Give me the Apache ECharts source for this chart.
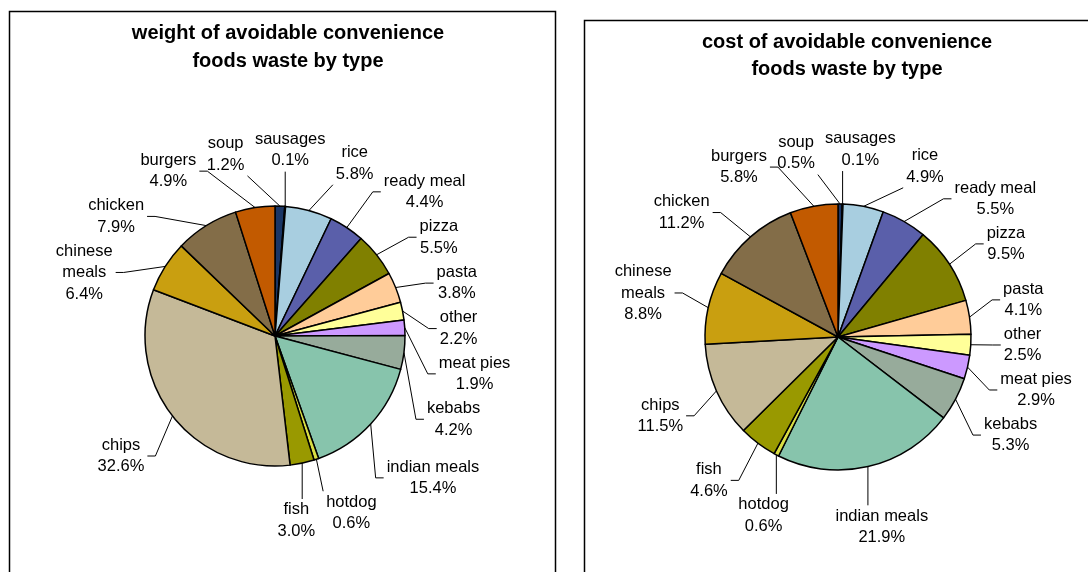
<!DOCTYPE html>
<html><head><meta charset="utf-8">
<script src="https://cdn.jsdelivr.net/npm/echarts@6/dist/echarts.min.js"></script>
<style>html,body{margin:0;padding:0;background:#fff}#c{width:1088px;height:572px}</style>
</head><body><div id="c"></div>
<script>
const categories = ['soup','sausages','rice','ready meal','pizza','pasta','other','meat pies','kebabs','indian meals','hotdog','fish','chips','chinese\nmeals','chicken','burgers'];
const weightPct = [1.2,0.1,5.8,4.4,5.5,3.8,2.2,1.9,4.2,15.4,0.6,3.0,32.6,6.4,7.9,4.9];
const costPct = [0.5,0.1,4.9,5.5,9.5,4.1,2.5,2.9,5.3,21.9,0.6,4.6,11.5,8.8,11.2,5.8];
const sliceColors = ['#1B3665','#2E2E7A','#A8CEE0','#5A5FAA','#808000','#FFCC99','#FFFF99','#CC99FF','#97AB9B','#87C4AC','#D9DD44','#999900','#C5B998','#C99F10','#836D48','#C25A00'];
const titles = ['weight of avoidable convenience\nfoods waste by type','cost of avoidable convenience\nfoods waste by type'];

const FONT = '"Liberation Sans", Arial, sans-serif';
const FS = 16.5, LH = 21.5;
const ctx = document.createElement('canvas').getContext('2d');
ctx.font = FS + 'px ' + FONT;
function labelText(i, vals){ return categories[i] + '\n' + vals[i].toFixed(1) + '%'; }
function measure(t){ const lines = t.split('\n'); return {w: Math.max(...lines.map(s => ctx.measureText(s).width)), h: lines.length * LH}; }

// radial label placement with simple angular relaxation (Excel "best fit" look)
function computeLayout(vals, C, r, gap){
  const sum = vals.reduce((a,b)=>a+b,0);
  let cum = 0;
  const L = vals.map((v,i)=>{ const mid = (cum + v/2)/sum*2*Math.PI; cum += v; const m = measure(labelText(i, vals)); return {mid, ang:mid, w:m.w+4, h:m.h}; });
  function place(l){ const dx = Math.sin(l.ang), dy = -Math.cos(l.ang); const ext = Math.abs(dx)*l.w/2 + Math.abs(dy)*l.h/2; const D = r + gap + ext; l.cx = C[0] + dx*D; l.cy = C[1] + dy*D; }
  L.forEach(place);
  for (let it = 0; it < 1500; it++){
    let moved = false;
    for (let i = 0; i < L.length; i++) for (let j = i+1; j < L.length; j++){
      const a = L[i], b = L[j];
      const ox = (a.w + b.w)/2 + 6 - Math.abs(a.cx - b.cx);
      const oy = (a.h + b.h)/2 + 2 - Math.abs(a.cy - b.cy);
      if (ox > 0 && oy > 0){
        let d = b.ang - a.ang; while (d > Math.PI) d -= 2*Math.PI; while (d < -Math.PI) d += 2*Math.PI;
        const s = d >= 0 ? 1 : -1;
        a.ang -= s*0.003; b.ang += s*0.003; place(a); place(b); moved = true;
      }
    }
    if (!moved) break;
  }
  return L;
}
function makeLabelLayout(L, C, r){
  return function(params){
    const l = L[params.dataIndex];
    const dx = Math.sin(l.mid), dy = -Math.cos(l.mid);
    const p0 = [C[0] + dx*r, C[1] + dy*r];
    const x0 = l.cx - l.w/2 - 1, x1 = l.cx + l.w/2 + 1, y0 = l.cy - l.h/2, y1 = l.cy + l.h/2;
    const ldx = l.cx - C[0];
    let p1, p2;
    if (Math.abs(Math.sin(l.ang)) > 0.5){
      const side = ldx > 0 ? x0 : x1;
      p2 = [side, l.cy]; p1 = [side + (ldx > 0 ? -8 : 8), l.cy];
    } else {
      p2 = [Math.min(Math.max(p0[0], x0), x1), Math.min(Math.max(p0[1], y0), y1)]; p1 = p2;
    }
    return {x: l.cx, y: l.cy, align:'center', verticalAlign:'middle', labelLinePoints:[p0, p1, p2]};
  };
}
function mkData(vals){ return categories.map((c,i)=>({name:c, value:vals[i]})); }
function pieSeries(vals, center, radius, gap){
  const L = computeLayout(vals, center, radius, gap);
  return {
    type:'pie', center:center, radius:radius, startAngle:90, clockwise:true,
    data: mkData(vals), color: sliceColors, animation:false, avoidLabelOverlap:false,
    itemStyle:{borderColor:'#000', borderWidth:1.5},
    label:{show:true, position:'outside', formatter:p=>p.name+'\n'+p.value.toFixed(1)+'%', fontFamily:FONT, fontSize:FS, lineHeight:LH, color:'#000'},
    labelLine:{show:true, length:10, length2:10, lineStyle:{color:'#000', width:1}},
    labelLayout: makeLabelLayout(L, center, radius),
    emphasis:{disabled:true}
  };
}
const chart = echarts.init(document.getElementById('c'));
chart.setOption({
  backgroundColor:'#fff',
  title:[
    {text:titles[0], left:283, top:14, textAlign:'center', textStyle:{fontFamily:FONT, fontSize:20, fontWeight:'bold', lineHeight:28, color:'#000'}},
    {text:titles[1], left:842, top:24, textAlign:'center', textStyle:{fontFamily:FONT, fontSize:20, fontWeight:'bold', lineHeight:27, color:'#000'}}
  ],
  graphic:[
    {type:'rect', shape:{x:9.5, y:11.5, width:546, height:600}, style:{fill:'none', stroke:'#000', lineWidth:1.5}, z:-1},
    {type:'rect', shape:{x:584.5, y:20.5, width:600, height:600}, style:{fill:'none', stroke:'#000', lineWidth:1.5}, z:-1}
  ],
  series:[
    pieSeries(weightPct, [275,336], 130, 32),
    pieSeries(costPct, [838,337], 133, 30)
  ]
});
</script></body></html>
